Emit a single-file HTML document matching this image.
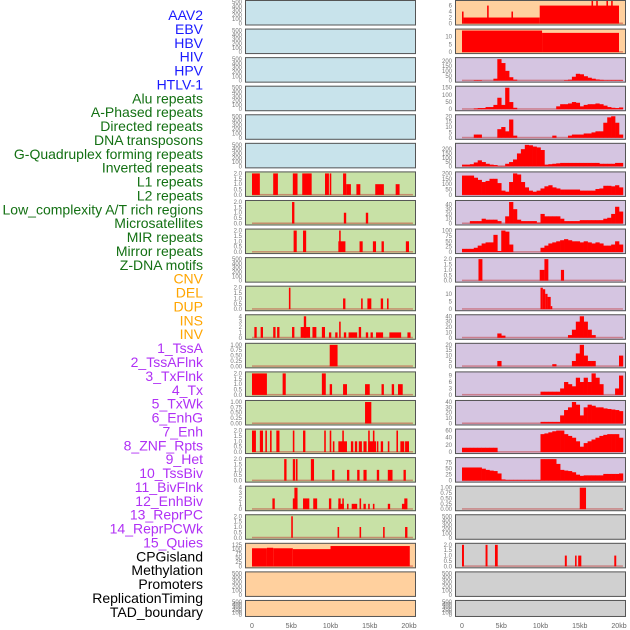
<!DOCTYPE html>
<html><head><meta charset="utf-8">
<style>
html,body{margin:0;padding:0;background:#fff;width:630px;height:630px;overflow:hidden}
svg{display:block;font-family:"Liberation Sans",sans-serif}
</style></head>
<body>
<svg id="chart" width="630" height="630" viewBox="0 0 630 630" xmlns="http://www.w3.org/2000/svg">
<g id="labels"></g>
<g id="panels"></g>
<g id="xaxes"></g>
</svg>
<script>
const trackNames = ["AAV2","EBV","HBV","HIV","HPV","HTLV-1","Alu repeats","A-Phased repeats","Directed repeats","DNA transposons","G-Quadruplex forming repeats","Inverted repeats","L1 repeats","L2 repeats","Low_complexity A/T rich regions","Microsatellites","MIR repeats","Mirror repeats","Z-DNA motifs","CNV","DEL","DUP","INS","INV","1_TssA","2_TssAFlnk","3_TxFlnk","4_Tx","5_TxWk","6_EnhG","7_Enh","8_ZNF_Rpts","9_Het","10_TssBiv","11_BivFlnk","12_EnhBiv","13_ReprPC","14_ReprPCWk","15_Quies","CPGisland","Methylation","Promoters","ReplicationTiming","TAD_boundary"];
const trackGroups = ["v","v","v","v","v","v","r","r","r","r","r","r","r","r","r","r","r","r","r","s","s","s","s","s","c","c","c","c","c","c","c","c","c","c","c","c","c","c","c","o","o","o","o","o"];
const xTickValues = [0,5,10,15,20];
const xTickLabels = ["0","5kb","10kb","15kb","20kb"];

// Left column segments [startKb, endKb, value]
const L7 = [[0,1.0,2],[2.7,3.3,2],[5.2,5.8,2],[6.4,7.6,2],[9.3,9.8,2],[9.9,10.1,2],[11.6,12.0,2],[12.0,12.6,1],[13.3,13.8,1],[15.7,16.8,1],[18.3,18.8,1]];
const L8 = [[5.1,5.4,2],[11.7,12.0,1],[14.5,14.8,1]];
const L9 = [[5.3,5.7,2],[6.5,6.9,2],[11.1,11.3,2],[11.0,11.9,1],[13.7,14.1,1],[15.4,15.8,1],[16.5,16.8,1],[19.6,20.0,1]];
const L11 = [[4.7,4.9,2],[11.6,11.9,1],[13.9,14.1,1],[14.7,15.2,1],[16.4,16.7,1],[17.2,17.4,1]];
const L12 = [[0.3,0.6,2],[1.1,1.4,2],[2.7,3.0,2],[3.2,3.5,2],[5.1,5.4,2],[6.2,7.4,2],[6.6,6.9,4],[7.7,8.2,2],[8.9,9.3,2],[9.8,10.1,1],[10.6,10.9,1],[11.1,11.3,3],[11.7,12.0,1],[12.3,13.4,1],[13.6,13.9,2],[14.5,14.8,1],[15.1,15.4,1],[15.8,16.7,1],[17.5,19.0,1],[19.8,20.2,1]];
const L13 = [[9.9,10.9,1]];
const L14 = [[0,1.9,2],[3.9,4.3,2],[8.9,9.4,2],[9.9,10.2,1],[11.6,12.1,1],[14.4,15.0,1],[16.5,16.8,1],[17.8,18.1,1],[18.6,19.2,1]];
const L15 = [[14.4,15.2,1]];
const L16 = [[0,0.5,2],[1.0,1.4,2],[1.7,1.9,2],[2.3,2.5,2],[3.1,3.5,2],[5.2,5.4,2],[6.5,6.8,2],[9.2,9.4,2],[9.9,10.1,2],[11.5,11.7,2],[14.8,15.0,2],[15.4,15.6,2],[18.4,18.6,2],[10.3,10.5,1],[11.0,12.1,1],[12.6,12.9,1],[13.1,13.4,1],[13.6,14.0,1],[14.2,14.6,1],[14.8,15.8,1],[15.9,16.1,1],[16.4,16.7,1],[17.3,17.5,1],[18.9,19.4,1],[19.5,20.0,1]];
const L17 = [[4.1,4.4,2],[5.2,5.5,2],[5.6,5.8,2],[7.5,7.9,2],[10.2,10.5,1],[12.1,12.4,1],[13.4,13.7,1],[14.2,14.6,1],[15.9,16.2,1],[17.3,17.9,1],[19.3,19.6,1]];
const L18 = [[2.6,2.9,2],[5.2,5.8,2],[5.4,5.8,4],[6.5,7.3,2],[7.8,8.3,2],[9.8,10.1,2],[11.0,11.7,1],[11.0,11.3,2],[11.5,11.7,2],[12.1,12.3,1],[12.7,13.4,1],[13.7,13.9,2],[14.2,14.5,1],[14.8,15.0,1],[15.4,15.6,1],[17.3,17.6,1],[19.1,19.7,1],[19.4,19.8,2]];
const L19 = [[5.0,5.2,2],[10.9,11.1,1],[13.7,13.9,1],[16.7,16.9,1],[19.5,19.8,1]];
const L20 = [[0,1.9,105],[1.9,2.7,108],[2.7,5.2,105],[5.2,10.0,100],[10.0,20.1,118]];

// Right column
const R1 = [[0,0.2,4],[0.2,9.9,2],[3.2,3.4,6],[6.3,6.5,4],[9.9,20.0,6],[16.5,16.7,8],[17.1,17.3,8],[18.4,18.6,8],[19.0,19.2,8]];
const R2 = [[0,10.2,14],[10.2,20.0,12.5]];
// 0.5 kb bins starting at 0
const R3 = [0,0,0,5,5,0,0,0,20,220,180,100,35,10,0,0,0,0,0,0,0,0,0,0,0,0,5,10,40,70,65,45,30,20,12,8,5,5,5,5,5];
const R4 = [0,0,0,5,8,8,15,15,30,80,30,150,50,10,0,0,0,0,0,0,0,0,0,0,20,35,35,40,50,45,20,30,35,35,40,35,25,15,10,8,12];
const R5 = [0,0,0,3,3,0,0,0,0,8,10,6,17,2,0,0,0,0,0,0,0,0,0,2,0,0,0,2,3,3,3,4,4,5,6,6,14,19,20,14,3];
const R6 = [20,20,25,45,70,50,30,20,15,5,5,30,50,80,150,200,250,245,230,220,190,20,25,30,35,40,40,40,40,40,40,40,40,40,40,30,30,30,30,40,40];
const R7 = [180,180,180,160,140,120,130,150,150,110,40,30,120,200,190,120,70,40,30,40,60,80,90,70,60,50,50,50,50,50,40,40,40,40,55,60,85,85,80,90,70];
const R8 = [0,0,5,5,5,10,8,8,8,5,0,15,45,30,8,5,5,5,5,2,20,15,15,15,15,10,5,5,5,5,7,7,7,7,7,7,10,12,20,35,25];
const R9 = [15,15,15,20,30,40,45,45,80,5,100,95,35,0,0,0,0,0,0,0,20,30,40,45,50,55,60,55,50,50,45,50,45,40,45,40,30,30,35,50,35];
const R10 = [[2.1,2.6,2],[9.9,10.5,1],[10.5,11.0,2],[12.6,13.0,1]];
const R11 = [[10.0,10.3,14],[10.3,10.6,13],[10.6,10.9,10],[10.9,11.3,8],[11.3,11.5,2]];
const R12 = [0,0,0,0,0,0,0,0,0,8,4,0,0,0,0,0,0,0,0,0,0,0,0,0,0,0,0,5,15,30,40,30,15,5,0,0,0,0,0,0,0];
const R13 = [0,0,0,0,0,0,0,0,0,5,0,0,0,0,0,0,0,0,0,0,0,0,0,2,0,0,0,0,5,12,20,10,5,5,0,0,0,0,0,0,10];
const R14 = [0,0,0,0,0,0,0,0,0,0,0,0,0,0,0,0,0,0,0,0,1.5,1.5,1.5,1.5,1.5,3,6,5,4,8,6,8,6,10,8,5,0,0,0,3,9];
const R15 = [0,0,0,0,0,0,0,0,0,0,0,0,0,0,0,0,0,0,0,0,3,3,3,3,3,15,25,30,40,35,15,30,35,33,30,30,28,27,26,25,23];
const R16 = [12,12,12,12,12,12,12,12,12,0,0,0,0,0,0,0,0,0,0,0,50,52,55,58,60,60,50,45,40,30,15,25,30,35,40,45,48,50,50,50,40];
const R17 = [55,55,55,55,55,50,45,42,40,30,5,3,3,3,3,3,3,3,3,3,90,90,90,90,70,45,42,40,35,25,20,22,22,22,22,22,28,28,28,28,30];
const R18 = [[15.0,15.8,1]];
const R20 = [[0,0.25,2],[3.0,3.25,2],[4.2,4.55,2],[13.1,13.35,1],[14.4,14.6,1],[14.8,15.2,1],[19.4,19.65,1]];

const T500 = [0,100,200,300,400,500], T2 = [0,0.5,1,1.5,2], T1 = [0,0.25,0.5,0.75,1];
// [row, side, bg, yMax, ticks, data, kind]
const BLUE="#c8e3eb", GREEN="#c8e1a6", PURPLE="#d5c5e1", ORANGE="#ffd09e", GRAY="#d0d0d0";
const panelDefs = [
 [0,0,BLUE,500,T500,null],[0,1,ORANGE,7.2,[0,2,4,6],R1],
 [1,0,BLUE,500,T500,null],[1,1,ORANGE,14,[0,5,10],R2],
 [2,0,BLUE,500,T500,null],[2,1,PURPLE,220,[0,50,100,150,200],R3],
 [3,0,BLUE,500,T500,null],[3,1,PURPLE,150,[0,50,100,150],R4],
 [4,0,BLUE,500,T500,null],[4,1,PURPLE,20,[0,5,10,15,20],R5],
 [5,0,BLUE,500,T500,null],[5,1,PURPLE,250,[0,50,100,150,200],R6],
 [6,0,GREEN,2,T2,L7],[6,1,PURPLE,200,[0,50,100,150,200],R7],
 [7,0,GREEN,2,T2,L8],[7,1,PURPLE,45,[0,10,20,30,40],R8],
 [8,0,GREEN,2,T2,L9],[8,1,PURPLE,100,[0,25,50,75,100],R9],
 [9,0,GREEN,500,T500,null],[9,1,PURPLE,2,T2,R10],
 [10,0,GREEN,2,T2,L11],[10,1,PURPLE,14,[0,5,10],R11],
 [11,0,GREEN,4,[0,1,2,3,4],L12],[11,1,PURPLE,40,[0,10,20,30,40],R12],
 [12,0,GREEN,1,T1,L13],[12,1,PURPLE,20,[0,5,10,15,20],R13],
 [13,0,GREEN,2,T2,L14],[13,1,PURPLE,10,[0,3,6,9],R14],
 [14,0,GREEN,1,T1,L15],[14,1,PURPLE,40,[0,10,20,30,40],R15],
 [15,0,GREEN,2,T2,L16],[15,1,PURPLE,60,[0,20,40,60],R16],
 [16,0,GREEN,2,T2,L17],[16,1,PURPLE,90,[0,25,50,75],R17],
 [17,0,GREEN,4,[0,1,2,3,4],L18],[17,1,GRAY,1,T1,R18],
 [18,0,GREEN,2,T2,L19],[18,1,GRAY,500,T500,null],
 [19,0,ORANGE,125,[0,25,50,75,100,125],L20],[19,1,GRAY,2,T2,R20],
 [20,0,ORANGE,500,T500,null],[20,1,GRAY,500,T500,null],
 [21,0,ORANGE,500,T500,null],[21,1,GRAY,500,T500,null]
];

const NS="http://www.w3.org/2000/svg";
function mk(tag, attrs, parent){const e=document.createElementNS(NS,tag);for(const k in attrs)e.setAttribute(k,attrs[k]);parent.appendChild(e);return e;}
const groupColor={v:"#1a1aff",r:"#137013",s:"#ffa500",c:"#b030f5",o:"#000000"};
const labelsG=document.getElementById('labels');
trackNames.forEach((n,i)=>{
  const t=mk('text',{x:203,y:20+i*13.88,'text-anchor':'end','font-size':14,fill:groupColor[trackGroups[i]]},labelsG);
  t.textContent=n;
  
  
});
const panelsG=document.getElementById('panels');
const colX=[245,455], panelW=171;
function rowTop(r){return r===0?0:r*28.57;}
function rowH(r){return r===21?17:25.5;}
function xScale(side,kb){return colX[side]+7+kb*7.85;}
panelDefs.forEach(d=>{
  const [row,side,bg,yMax,ticks,data]=d;
  const top=rowTop(row), h=rowH(row), x0=colX[side];
  const y0=top+h-2, y1=top+2;
  const yScale=v=>y0-(Math.min(v,yMax*1.05)/yMax)*(y0-y1);
  const g=mk('g',{},panelsG);
  
  
  mk('rect',{x:x0,y:top,width:panelW,height:h,fill:bg},g);
  mk('clipPath',{id:'c'+row+'_'+side},g).appendChild(Object.assign(document.createElementNS(NS,'rect'),{}));
  const cp=g.lastChild.firstChild;cp.setAttribute('x',x0);cp.setAttribute('y',top);cp.setAttribute('width',panelW);cp.setAttribute('height',h);
  const bars=mk('g',{'clip-path':'url(#c'+row+'_'+side+')'},g);
  if(data){
    mk('rect',{x:xScale(side,0),y:y0-1,width:xScale(side,20.5)-xScale(side,0),height:1.5,fill:'rgba(190,40,40,0.45)'},bars);
    if(Array.isArray(data[0])){
      data.forEach(s=>{
        const b=mk('rect',{x:xScale(side,s[0]),y:yScale(s[2]),width:Math.max(1,xScale(side,s[1])-xScale(side,s[0])),height:y0-yScale(s[2]),fill:'#ff0000'},bars);
        
        
      });
    } else {
      data.forEach((v,i)=>{
        if(v<=0)return;
        const b=mk('rect',{x:xScale(side,i*0.5),y:yScale(v),width:xScale(side,(i+1)*0.5)-xScale(side,i*0.5)+0.3,height:y0-yScale(v),fill:'#ff0000'},bars);
        
        
      });
    }
  }
  mk('rect',{x:x0+0.5,y:top+0.5,width:panelW-1,height:h-1,fill:'none',stroke:'#555','stroke-width':1},g);
  ticks.forEach(t=>{
    const lbl=mk('text',{x:x0-3,y:yScale(t)+2,'text-anchor':'end','font-size':6,fill:'#777'},g);
    lbl.textContent=(ticks===T2?t.toFixed(1):ticks===T1?t.toFixed(2):String(t));
    
    
  });
});
const xg=document.getElementById('xaxes');
[0,1].forEach(side=>{
  xTickValues.forEach((v,i)=>{
    const t=mk('text',{x:xScale(side,v),y:628,'text-anchor':'middle','font-size':7,fill:'#666'},xg);
    t.textContent=xTickLabels[i];
    
    
  });
});
</script>
</body></html>
